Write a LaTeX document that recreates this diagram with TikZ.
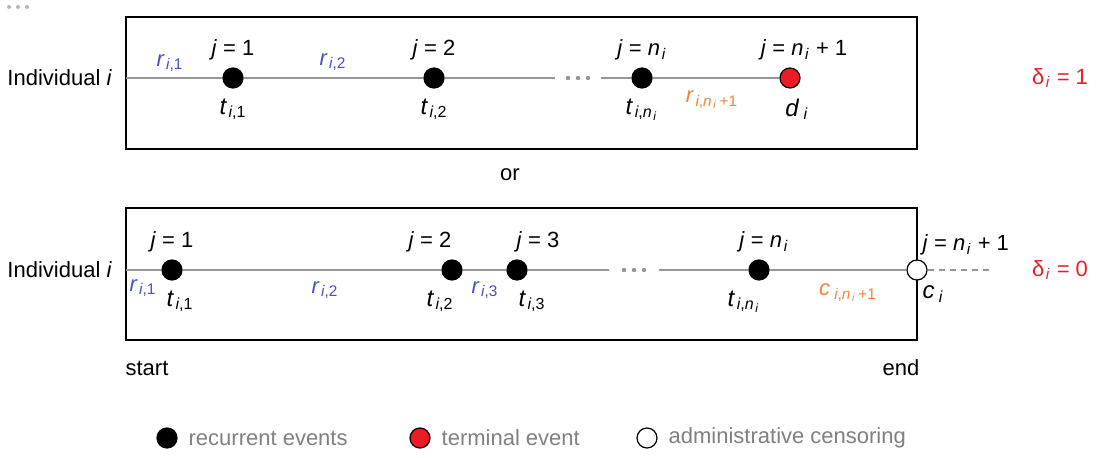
\documentclass[tikz,border=0pt]{standalone}
\usepackage{fontspec}
\setmainfont{Liberation Sans}
\usetikzlibrary{positioning, calc}
\definecolor{rblue}{RGB}{72,80,200}
\definecolor{corange}{RGB}{245,130,60}
\definecolor{dred}{RGB}{235,30,40}
\definecolor{dotred}{RGB}{237,28,36}
\definecolor{linegray}{RGB}{150,150,150}
\definecolor{leggray}{RGB}{128,128,128}
\newcommand{\vi}[1]{\textit{#1}}
\newcommand{\ssub}[1]{\kern0.8pt\textsubscript{#1}}

\begin{document}
\begin{tikzpicture}[
    x=0.5pt, y=-0.5pt,
    font=\fontsize{11}{13}\selectfont,
    frame/.style={draw, line width=0.75pt},
    tline/.style={draw=linegray, line width=0.75pt},
    recur/.style={circle, fill=black, draw=black, line width=0.6pt, minimum size=10pt, inner sep=0pt},
    term/.style={recur, fill=dotred},
    cens/.style={recur, fill=white},
    gap/.style={inner sep=0pt, minimum height=4pt},
    tlab/.style={font=\fontsize{12}{14}\selectfont},
    rlab/.style={text=rblue},
    olab/.style={text=corange},
    delta/.style={text=dred},
    legtext/.style={text=leggray, right=2pt of #1}
]
    \useasboundingbox (0,0) rectangle (1097,458);
    \foreach \x in {9,18,27} \fill[linegray!70] (\x,7) circle (2);

    % first case: terminal event
    \draw[frame] (126,17) rectangle (917,149);
    \coordinate (s1) at (126,78);
    \node[left=3.5pt of s1] (ind1) {Individual \vi{i}};
    \node[recur] (t11) at (233,78) {};
    \node[recur] (t12) at (434,78) {};
    \node[gap, minimum width=22.5pt] (dots1) at (578,78) {};
    \node[recur] (t1n) at (642,78) {};
    \node[term] (d) at (790,78) {};
    \draw[tline] (s1) -- (t11) -- (t12) -- (dots1) -- (t1n) -- (d);
    \foreach \dx in {-10,0,10} \fill[linegray] ($(dots1)+(\dx,0)$) circle (2.2);

    \node[above=0pt of t11] (j11) {\vi{j} = 1};
    \node[above=0pt of t12] (j12) {\vi{j} = 2};
    \node[above=0pt of t1n] (j1n) {\vi{j} = \vi{n}\ssub{\vi{i}}};
    \node[above=0pt of d, xshift=7pt] (j1d) {\vi{j} = \vi{n}\ssub{\vi{i}} + 1};
    \node[tlab, below=1.5pt of t11] (lt11) {\vi{t}\ssub{\vi{i},1}};
    \node[tlab, below=1.5pt of t12] (lt12) {\vi{t}\ssub{\vi{i},2}};
    \node[tlab, below=1.5pt of t1n] (lt1n) {\vi{t}\ssub{\vi{i},\vi{n}\ssub{\vi{i}}}};
    \node[tlab, below=1.5pt of d, xshift=3.5pt] (ld) {\vi{d}\ssub{\,\vi{i}}};
    \node[rlab] (r11) at (170,63) {\vi{r}\ssub{\vi{i},1}};
    \node[rlab] (r12) at (333,62) {\vi{r}\ssub{\vi{i},2}};
    \node[olab] (r1n) at (712,100) {\vi{r}\ssub{\vi{i},\vi{n}\ssub{\vi{i}}\,+1}};
    \node[delta] (del1) at (1060,78) {δ\ssub{\vi{i}} = 1};

    \node (or) at (510,175) {or};

    % second case: administrative censoring
    \draw[frame] (126,208) rectangle (917,340);
    \coordinate (s2) at (126,270);
    \coordinate (e2) at (992,270);
    \node[left=3.5pt of s2] (ind2) {Individual \vi{i}};
    \node[recur] (t21) at (172,270) {};
    \node[recur] (t22) at (452,270) {};
    \node[recur] (t23) at (517,270) {};
    \node[gap, minimum width=25pt] (dots2) at (634,270) {};
    \node[recur] (t2n) at (759,270) {};
    \node[cens] (c) at (917,270) {};
    \draw[tline] (s2) -- (t21) -- (t22) -- (t23) -- (dots2) -- (t2n) -- (c);
    \draw[tline, dash pattern=on 3pt off 2.5pt] (c) -- (e2);
    \foreach \dx in {-10,0,10} \fill[linegray] ($(dots2)+(\dx,0)$) circle (2.2);

    \node[above=0pt of t21] (j21) {\vi{j} = 1};
    \node[above=0pt of t22, xshift=-11pt] (j22) {\vi{j} = 2};
    \node[above=0pt of t23, xshift=10.5pt] (j23) {\vi{j} = 3};
    \node[above=0pt of t2n, xshift=2.5pt] (j2n) {\vi{j} = \vi{n}\ssub{\vi{i}}};
    \node[above right=0pt and -4.5pt of c] (j2c) {\vi{j} = \vi{n}\ssub{\vi{i}} + 1};
    \node[tlab, below=1.5pt of t21, xshift=4pt] (lt21) {\vi{t}\ssub{\vi{i},1}};
    \node[tlab, below=1.5pt of t22, xshift=-6pt] (lt22) {\vi{t}\ssub{\vi{i},2}};
    \node[tlab, below=1.5pt of t23, xshift=7.5pt] (lt23) {\vi{t}\ssub{\vi{i},3}};
    \node[tlab, below=1.5pt of t2n, xshift=-7.5pt] (lt2n) {\vi{t}\ssub{\vi{i},\vi{n}\ssub{\vi{i}}}};
    \node[tlab, below right=0.5pt and -4.5pt of c] (lc) {\vi{c}\ssub{\,\vi{i}}};
    \node[rlab] (r21) at (143,288) {\vi{r}\ssub{\vi{i},1}};
    \node[rlab] (r22) at (325,290) {\vi{r}\ssub{\vi{i},2}};
    \node[rlab] (r23) at (485,290) {\vi{r}\ssub{\vi{i},3}};
    \node[olab] (c2n) at (848,293) {\vi{c}\ssub{\,\vi{i},\vi{n}\ssub{\vi{i}}\,+1}};
    \node[delta] (del2) at (1060,270) {δ\ssub{\vi{i}} = 0};

    \node (start) at (147,368) {start};
    \node (end) at (901,368) {end};

    % legend
    \node[recur] (leg1) at (167,438) {};
    \node[legtext=leg1] (legt1) {recurrent events};
    \node[term] (leg2) at (420,438) {};
    \node[legtext=leg2] (legt2) {terminal event};
    \node[cens] (leg3) at (647,438) {};
    \node[legtext=leg3] (legt3) {administrative censoring};
\end{tikzpicture}
\end{document}
